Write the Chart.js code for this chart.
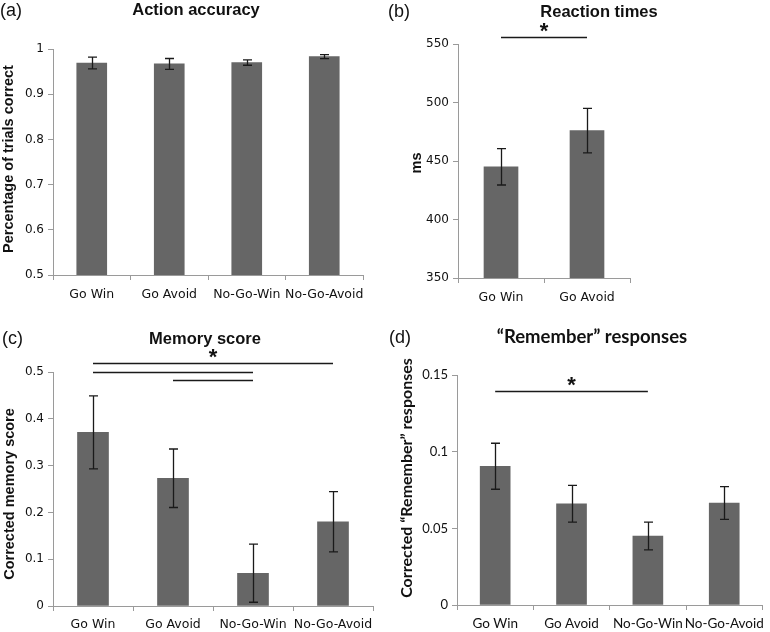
<!DOCTYPE html>
<html>
<head>
<meta charset="utf-8">
<script src="https://cdn.jsdelivr.net/npm/chart.js@4.4.1/dist/chart.umd.min.js"></script>
<style>
  html, body { margin: 0; padding: 0; background: #fff; }
  #page { position: relative; width: 770px; height: 632px; overflow: hidden; }
  .panel { position: absolute; width: 385px; height: 316px; }
  .lbl { position: absolute; white-space: nowrap; transform: translate(-50%, -50%); color: #111; }
  .vlbl { position: absolute; white-space: nowrap; transform: translate(-50%, -50%) rotate(-90deg); color: #111; }
  .letter { position: absolute; white-space: nowrap; font: 18px "Liberation Sans", Arial, sans-serif; color: #111; transform: translateY(-50%); }
  .ttl { font: bold 16.5px "Liberation Sans", Arial, sans-serif; }
  .ytl { font: bold 14.5px "Liberation Sans", Arial, sans-serif; }
  .ttl-d { font: bold 18.5px Lato, "Open Sans", sans-serif; }
  .ytl-d { font: bold 16px Lato, "Open Sans", sans-serif; }
</style>
</head>
<body>
<div id="page">
  <div class="panel" style="left:0;top:0"><canvas id="chart-a"></canvas></div>
  <div class="panel" style="left:385px;top:0"><canvas id="chart-b"></canvas></div>
  <div class="panel" style="left:0;top:316px"><canvas id="chart-c"></canvas></div>
  <div class="panel" style="left:385px;top:316px"><canvas id="chart-d"></canvas></div>

  <div class="letter" style="left:0;top:10px">(a)</div>
  <div class="lbl ttl" style="left:196px;top:9px">Action accuracy</div>
  <div class="vlbl ytl" style="left:8px;top:159px">Percentage of trials correct</div>

  <div class="letter" style="left:388px;top:11px">(b)</div>
  <div class="lbl ttl" style="left:599px;top:11px">Reaction times</div>
  <div class="vlbl ytl" style="left:416px;top:163px">ms</div>

  <div class="letter" style="left:2px;top:338px">(c)</div>
  <div class="lbl ttl" style="left:205px;top:338px">Memory score</div>
  <div class="vlbl ytl" style="left:9px;top:494px">Corrected memory score</div>

  <div class="letter" style="left:389px;top:337px">(d)</div>
  <div class="lbl ttl-d" style="left:592px;top:336px">“Remember” responses</div>
  <div class="vlbl ytl-d" style="left:405px;top:478px">Corrected “Remember” responses</div>
</div>

<script>
// --- Data ---
var CATS4 = ['Go Win', 'Go Avoid', 'No-Go-Win', 'No-Go-Avoid'];
var CATS2 = ['Go Win', 'Go Avoid'];

var accMean = [0.969, 0.967, 0.970, 0.983];
var accErr  = [0.013, 0.012, 0.006, 0.0045];

var rtMean = [445, 476];
var rtErr  = [15.5, 19];

var memMean = [0.371, 0.273, 0.070, 0.180];
var memErr  = [0.078, 0.0625, 0.062, 0.0645];

var remMean = [0.0905, 0.066, 0.045, 0.0665];
var remErr  = [0.015, 0.012, 0.009, 0.0107];

// y ranges: [min, max, step]
var accRange = [0.5, 1, 0.1];
var rtRange  = [350, 550, 50];
var memRange = [0, 0.5, 0.1];
var remRange = [0, 0.15, 0.05];

// significance bars: [fromIndex, toIndex, yValue]; stars: [xIndex, yValue]
var rtSig  = [[0, 1, 556]];
var rtStar = [[0.5, 565]];
var memSig  = [[0, 3, 0.519], [0, 2, 0.5], [1, 2, 0.482]];
var memStar = [[1.5, 0.542]];
var remSig  = [[0, 2, 0.1396]];
var remStar = [[1, 0.1467]];

// --- Styling ---
var BAR_COLOR = '#666666';
var AXIS_COLOR = '#9a9a9a';
var FONT_SANS = '"DejaVu Sans", Verdana, sans-serif';
var FONT_TITLE = '"Liberation Sans", Arial, sans-serif';
var FONT_D = 'Lato, "Open Sans", sans-serif';

var errorBars = {
  id: 'errorBars',
  afterDatasetsDraw: function (chart) {
    var ctx = chart.ctx;
    var y = chart.scales.y;
    var meta = chart.getDatasetMeta(0);
    var ds = chart.data.datasets[0];
    ctx.save();
    ctx.strokeStyle = '#1a1a1a';
    ctx.lineWidth = 1.3;
    meta.data.forEach(function (bar, i) {
      var v = ds.data[i], e = ds.err[i];
      var top = y.getPixelForValue(v + e);
      var bot = y.getPixelForValue(v - e);
      var x = Math.round(bar.x) + 0.5;
      ctx.beginPath();
      ctx.moveTo(x, top); ctx.lineTo(x, bot);
      ctx.moveTo(x - 4.5, top); ctx.lineTo(x + 4.5, top);
      ctx.moveTo(x - 4.5, bot); ctx.lineTo(x + 4.5, bot);
      ctx.stroke();
    });
    ctx.restore();
  }
};

var sigMarks = {
  id: 'sigMarks',
  afterDraw: function (chart, args, opts) {
    if (!opts.lines) return;
    var ctx = chart.ctx;
    var xs = chart.scales.x, ys = chart.scales.y;
    ctx.save();
    ctx.strokeStyle = '#1a1a1a';
    ctx.lineWidth = 1.3;
    opts.lines.forEach(function (l) {
      var py = Math.round(ys.getPixelForValue(l[2])) + 0.5;
      ctx.beginPath();
      ctx.moveTo(xs.getPixelForValue(l[0]), py);
      ctx.lineTo(xs.getPixelForValue(l[1]), py);
      ctx.stroke();
    });
    ctx.fillStyle = '#111';
    ctx.font = 'bold 22px ' + FONT_TITLE;
    ctx.textAlign = 'center';
    ctx.textBaseline = 'alphabetic';
    (opts.stars || []).forEach(function (s) {
      ctx.fillText('*', xs.getPixelForValue(s[0]), ys.getPixelForValue(s[1]) + 12);
    });
    ctx.restore();
  }
};

function fmt(v) {
  return String(Math.round(v * 1000) / 1000);
}

function makeChart(id, cfg) {
  return new Chart(document.getElementById(id), {
    type: 'bar',
    data: {
      labels: cfg.labels,
      datasets: [{
        data: cfg.mean,
        err: cfg.err,
        backgroundColor: BAR_COLOR,
        barThickness: cfg.barWidth
      }]
    },
    options: {
      responsive: false,
      animation: false,
      devicePixelRatio: 1,
      layout: { padding: { top: cfg.area.top, right: cfg.area.right, bottom: 0, left: 0 } },
      plugins: {
        legend: { display: false },
        tooltip: { enabled: false },
        sigMarks: { lines: cfg.sig, stars: cfg.stars }
      },
      scales: {
        x: {
          grid: { display: true, drawOnChartArea: false, color: AXIS_COLOR, tickLength: 5 },
          border: { color: AXIS_COLOR, width: 1 },
          ticks: {
            color: '#111', font: { family: cfg.tickFamily, size: cfg.xSize },
            padding: cfg.xPad, maxRotation: 0, minRotation: 0, autoSkip: false
          },
          afterFit: function (s) { s.height = cfg.area.bottom; }
        },
        y: {
          min: cfg.range[0],
          max: cfg.range[1],
          grid: { display: true, drawOnChartArea: false, color: AXIS_COLOR, tickLength: 5 },
          border: { color: AXIS_COLOR, width: 1 },
          ticks: {
            stepSize: cfg.range[2], color: '#111', padding: 4,
            font: { family: cfg.tickFamily, size: cfg.ySize },
            callback: function (v) { return fmt(v); }
          },
          afterFit: function (s) { s.width = cfg.area.left; }
        }
      }
    },
    plugins: [errorBars, sigMarks]
  });
}

function setSize(id) {
  var c = document.getElementById(id);
  c.width = 385; c.height = 316;
  c.style.width = '385px'; c.style.height = '316px';
}
['chart-a', 'chart-b', 'chart-c', 'chart-d'].forEach(setSize);

makeChart('chart-a', {
  labels: CATS4, mean: accMean, err: accErr, range: accRange,
  tickFamily: FONT_SANS, xSize: 12.5, ySize: 12, xPad: 7, barWidth: 30,
  area: { left: 53, right: 22, top: 49, bottom: 41 }
});

makeChart('chart-b', {
  labels: CATS2, mean: rtMean, err: rtErr, range: rtRange,
  tickFamily: FONT_SANS, xSize: 12.5, ySize: 12, xPad: 7, barWidth: 34,
  sig: rtSig, stars: rtStar,
  area: { left: 73, right: 140, top: 44, bottom: 38 }
});

makeChart('chart-c', {
  labels: CATS4, mean: memMean, err: memErr, range: memRange,
  tickFamily: FONT_SANS, xSize: 12.5, ySize: 12, xPad: 6, barWidth: 31,
  sig: memSig, stars: memStar,
  area: { left: 53, right: 12, top: 56, bottom: 26 }
});

makeChart('chart-d', {
  labels: CATS4, mean: remMean, err: remErr, range: remRange,
  tickFamily: FONT_D, xSize: 13.5, ySize: 13, xPad: 6, barWidth: 30,
  sig: remSig, stars: remStar,
  area: { left: 72, right: 2, top: 59, bottom: 27 }
});
</script>
</body>
</html>
